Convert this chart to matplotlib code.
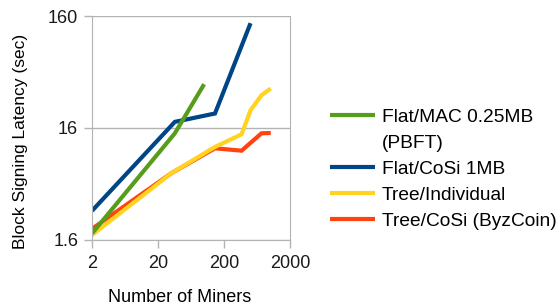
import matplotlib
matplotlib.use('Agg')
import matplotlib.pyplot as plt
from matplotlib.lines import Line2D

plt.rcParams['font.family'] = ['Liberation Sans', 'DejaVu Sans']

# values (log-log)
flat_mac_x = [2, 36, 100]
flat_mac_y = [1.82, 14.3, 39.3]

flat_cosi_x = [2, 36, 146, 505]
flat_cosi_y = [2.9, 18.1, 21.5, 138]

tree_ind_x = [2, 32, 146, 369, 505, 740, 1021]
tree_ind_y = [1.76, 6.3, 10.8, 14.0, 23.0, 31.3, 36.0]

tree_cosi_x = [2, 32, 146, 369, 740, 1021]
tree_cosi_y = [2.0, 6.3, 10.5, 10.0, 14.3, 14.4]

labels = ['Flat/MAC 0.25MB', 'Flat/CoSi 1MB',
          'Tree/Individual', 'Tree/CoSi (ByzCoin)']
colors = ['#579d1c', '#004586', '#ffd320', '#ff420e']

xticks = [2, 20, 200, 2000]
yticks = [1.6, 16, 160]

fig = plt.figure(figsize=(5.58, 3.08), dpi=100)
ax = fig.add_axes([0.1649, 0.2218, 0.3548, 0.7262])

series = [(flat_mac_x, flat_mac_y), (flat_cosi_x, flat_cosi_y),
          (tree_ind_x, tree_ind_y), (tree_cosi_x, tree_cosi_y)]
# draw order: red under yellow, flat lines on top
lines = {}
for i in [3, 2, 1, 0]:
    x, y = series[i]
    lines[i], = ax.plot(x, y, color=colors[i], lw=3.0,
                        solid_capstyle='butt', solid_joinstyle='miter')

ax.set_xscale('log')
ax.set_yscale('log')
ax.set_xlim(2, 2000)
ax.set_ylim(1.6, 160)
ax.set_xticks(xticks)
ax.set_xticklabels([str(t) for t in xticks])
ax.set_yticks(yticks)
ax.set_yticklabels(['1.6', '16', '160'])
ax.minorticks_off()
ax.tick_params(labelsize=13, colors='#b3b3b3', labelcolor='#1a1a1a',
               length=6, width=1)
ax.tick_params(axis='x', pad=5)
ax.tick_params(axis='y', pad=4)
ax.grid(axis='y', color='#b3b3b3', lw=1)
for s in ax.spines.values():
    s.set_color('#b3b3b3')
ax.spines['top'].set_visible(False)
ax.set_axisbelow(True)

ax.set_xlabel('Number of Miners', fontsize=13, va='center')
ax.xaxis.set_label_coords(0.444, -0.259)
ax.set_ylabel('Block Signing Latency (sec)', fontsize=12.5, va='center')
ax.yaxis.set_label_coords(-0.359, 0.44)

# second line of the PBFT label has no handle of its own
blank = Line2D([], [], color='none')
handles = [lines[0], blank, lines[1], lines[2], lines[3]]
leg_labels = [labels[0], '(PBFT)', labels[1], labels[2], labels[3]]
fig.legend(handles, leg_labels, loc='upper left',
           bbox_to_anchor=(0.591, 0.649), frameon=False, fontsize=13.8,
           handlelength=2.35, handletextpad=0.36, labelspacing=0.45,
           borderpad=0, borderaxespad=0)

fig.savefig('out.png', dpi=100)
